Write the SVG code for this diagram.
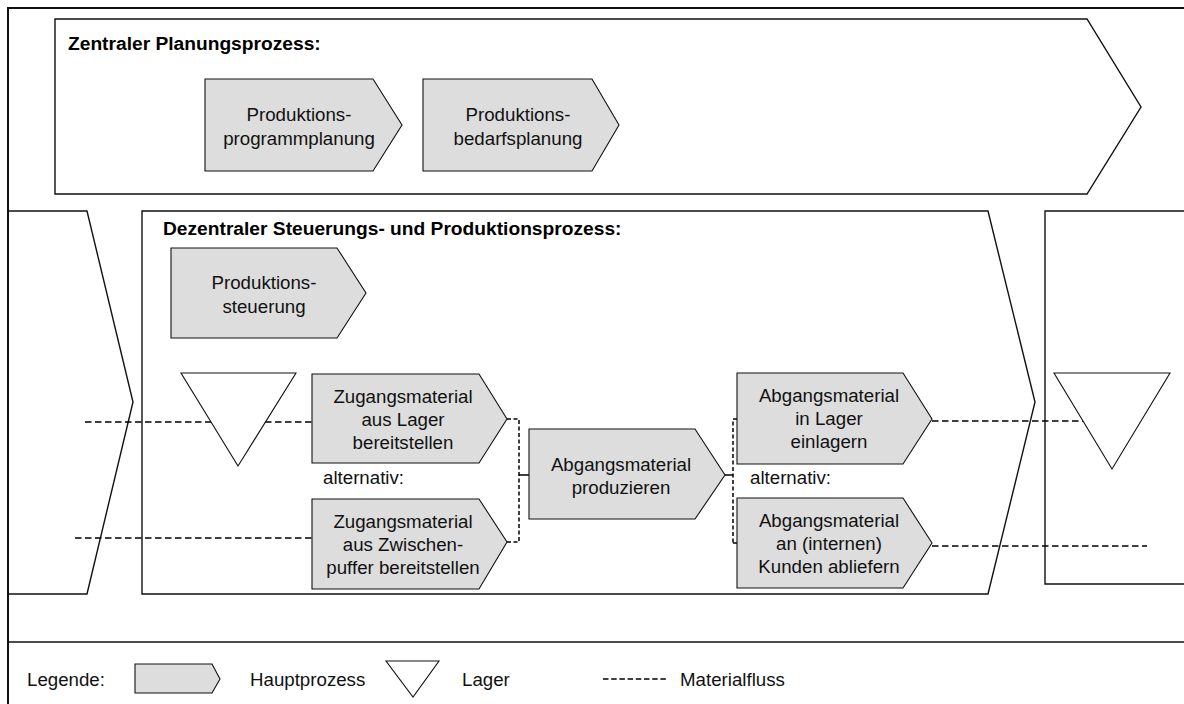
<svg xmlns="http://www.w3.org/2000/svg" width="1184" height="704" viewBox="0 0 1184 704">
  <style>
    .frame { fill: none; stroke: #111; stroke-width: 1.4; }
    .outer { fill: none; stroke: #111; stroke-width: 2; }
    .proc { fill: #dddddd; stroke: #111; stroke-width: 1.1; }
    .store { fill: #ffffff; stroke: #111; stroke-width: 1.1; }
    .flow { fill: none; stroke: #000; stroke-width: 1.5; stroke-dasharray: 6.5 3.5; }
    .bracket { fill: none; stroke: #000; stroke-width: 1.5; stroke-dasharray: 4 2.5; }
    .tick { fill: none; stroke: #000; stroke-width: 1.5; }
    text { font-family: "Liberation Sans", Arial, sans-serif; font-size: 18.7px; fill: #111; }
    .title { font-weight: bold; font-size: 19.2px; fill: #000; }
    .lbl { text-anchor: middle; }
  </style>

  <rect x="0" y="0" width="1184" height="704" fill="#ffffff"/>

  <!-- sections -->
  <g id="sections">
    <polyline class="outer" points="8,704 8,8 1184,8"/>
    <g id="zentral">
      <polygon class="frame" points="55,19 1087,19 1141,107 1087,194 55,194"/>
      <text class="title" x="68" y="50">Zentraler Planungsprozess:</text>
    </g>
    <g id="vorgelagert">
      <polyline class="frame" points="8,211 87,211 133,402 87,594 8,594"/>
    </g>
    <g id="dezentral">
      <polygon class="frame" points="142,211 988,211 1035,402 988,594 142,594"/>
      <text class="title" x="163" y="235">Dezentraler Steuerungs- und Produktionsprozess:</text>
    </g>
    <g id="nachgelagert">
      <polyline class="frame" points="1186,211 1045,211 1045,584 1186,584"/>
    </g>
    <line class="frame" x1="8" y1="642" x2="1184" y2="642"/>
  </g>

  <!-- material flow -->
  <g id="connectors">
    <line class="flow" x1="85" y1="422" x2="312" y2="422"/>
    <line class="flow" x1="75" y1="538" x2="312" y2="538"/>
    <polyline class="bracket" points="507,419 519,419 519,542 507,542"/>
    <line class="tick" x1="519" y1="475" x2="529" y2="475"/>
    <line class="tick" x1="725" y1="475" x2="733" y2="475"/>
    <polyline class="bracket" points="737,419 733,419 733,543"/>
    <line class="tick" x1="733" y1="543" x2="737" y2="543"/>
    <line class="flow" x1="932" y1="421" x2="1110" y2="421"/>
    <line class="flow" x1="932" y1="546" x2="1147" y2="546"/>
  </g>

  <!-- storage -->
  <g id="lager-zugang">
    <polygon class="store" points="181,373 296,373 238,466"/>
  </g>
  <g id="lager-abgang">
    <polygon class="store" points="1054,373 1170,373 1112,469"/>
  </g>

  <!-- main processes -->
  <g id="programmplanung">
    <polygon class="proc" points="205,79 373,79 402,125 373,171 205,171"/>
    <text class="lbl" x="299" y="121">Produktions-</text>
    <text class="lbl" x="299" y="145">programmplanung</text>
  </g>
  <g id="bedarfsplanung">
    <polygon class="proc" points="423,79 592,79 619,125 592,171 423,171"/>
    <text class="lbl" x="518" y="121">Produktions-</text>
    <text class="lbl" x="518" y="145">bedarfsplanung</text>
  </g>
  <g id="steuerung">
    <polygon class="proc" points="171,248 337,248 366,293 337,338 171,338"/>
    <text class="lbl" x="264" y="289">Produktions-</text>
    <text class="lbl" x="264" y="313">steuerung</text>
  </g>
  <g id="zugang-lager">
    <polygon class="proc" points="312,374 479,374 507,419 479,463 312,463"/>
    <text class="lbl" x="403" y="403">Zugangsmaterial</text>
    <text class="lbl" x="403" y="426">aus Lager</text>
    <text class="lbl" x="403" y="449">bereitstellen</text>
  </g>
  <text x="323" y="484">alternativ:</text>
  <g id="zugang-puffer">
    <polygon class="proc" points="312,499 479,499 507,542 479,589 312,589"/>
    <text class="lbl" x="403" y="528">Zugangsmaterial</text>
    <text class="lbl" x="403" y="551">aus Zwischen-</text>
    <text class="lbl" x="403" y="574">puffer bereitstellen</text>
  </g>
  <g id="produzieren">
    <polygon class="proc" points="529,429 695,429 725,475 695,519 529,519"/>
    <text class="lbl" x="621" y="471">Abgangsmaterial</text>
    <text class="lbl" x="621" y="494">produzieren</text>
  </g>
  <g id="einlagern">
    <polygon class="proc" points="737,373 903,373 932,419 903,464 737,464"/>
    <text class="lbl" x="829" y="402">Abgangsmaterial</text>
    <text class="lbl" x="829" y="425">in Lager</text>
    <text class="lbl" x="829" y="448">einlagern</text>
  </g>
  <text x="750" y="484">alternativ:</text>
  <g id="abliefern">
    <polygon class="proc" points="737,498 903,498 932,543 903,588 737,588"/>
    <text class="lbl" x="829" y="527">Abgangsmaterial</text>
    <text class="lbl" x="829" y="550">an (internen)</text>
    <text class="lbl" x="829" y="573">Kunden abliefern</text>
  </g>

  <!-- legend -->
  <g id="legende">
    <text x="27" y="686">Legende:</text>
    <polygon class="proc" points="135,664 212,664 220,679 212,693 135,693"/>
    <text x="250" y="686">Hauptprozess</text>
    <polygon class="store" points="386,661 439,661 413,697"/>
    <text x="462" y="686">Lager</text>
    <line class="flow" x1="603" y1="679" x2="667" y2="679" style="stroke-dasharray: 5.5 2.7"/>
    <text x="680" y="686">Materialfluss</text>
  </g>
</svg>
